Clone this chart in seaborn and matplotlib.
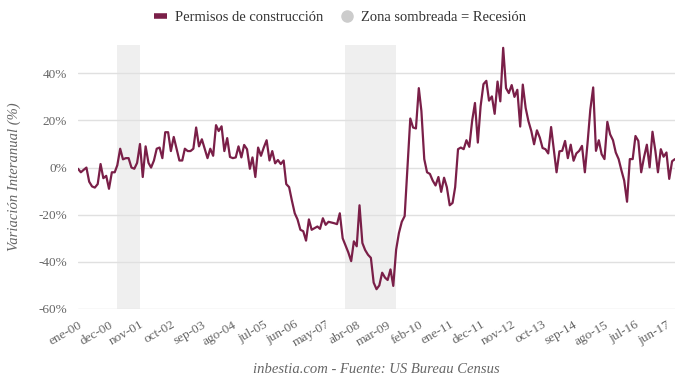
import pandas as pd
import matplotlib
matplotlib.use('Agg')
import matplotlib.pyplot as plt
from matplotlib.lines import Line2D
import seaborn as sns

# Variación interanual de los permisos de construcción (%), mensual desde ene-2000
variacion = [
    -0.5, -2, -1, 0, -6, -8, -8.5, -7, 1.5, -4.5, -3.5, -9,            # 2000
    -2, -2, 1, 8, 3.5, 4, 4, 0, -0.5, 2, 10, -4,                        # 2001
    9, 2, 0, 3, 8, 8.5, 4, 15, 15, 7, 13, 8,                            # 2002
    3, 3, 8, 7, 7, 8, 17, 9, 12, 8, 4, 8,                               # 2003
    5, 18, 15.5, 17.5, 7, 12.5, 4.5, 4, 4.3, 9, 4.3, 9.6,               # 2004
    7.8, -0.5, 4.3, -4, 8.5, 5, 8.5, 11.6, 3, 7, 1.8, 3.2,              # 2005
    1.5, 3, -7, -8.3, -14, -19.4, -22, -26.4, -27, -31, -22, -26.4,     # 2006
    -25.7, -25, -26, -21.5, -24.3, -23, -23.3, -23.6, -24, -19.4, -30, -33,  # 2007
    -36, -39.7, -31.3, -33.4, -16, -32, -35, -37, -38.3, -48.8, -51.6, -50,  # 2008
    -44.6, -46.7, -47.7, -43.2, -50.2, -34.8, -27.8, -23, -20.6, 0, 20.8, 17,  # 2009
    16.6, 33.7, 24, 3.6, -2, -2.7, -5.5, -7.6, -4, -10.3, -4.3, -8.3,   # 2010
    -16, -15, -8.3, 7.8, 8.5, 7.8, 11.6, 8.8, 20, 27.4, 10.6, 26,       # 2011
    35.4, 36.8, 28.4, 30.2, 22.8, 36.5, 28.1, 50.8, 33.7, 31.6, 35, 30, # 2012
    33, 17.4, 35.2, 25.3, 19.7, 15.5, 9.9, 15.8, 12.7, 8.3, 7.8, 6,     # 2013
    17.2, 7.1, -2, 6.9, 7.1, 11.3, 4, 9.7, 2.9, 6, 7.1, 9.2,            # 2014
    -2, 11.3, 24.6, 34, 7.1, 11.6, 5.7, 3.6, 19.4, 14.1, 11.6, 6.4,     # 2015
    3.6, -1.3, -5.5, -14.5, 3.6, 3.6, 13.4, 11.3, -2, 4.3, 9.7, 0.1,    # 2016
    15.2, 7.1, -2, 7.8, 4.6, 6.4, -4.8, 2.7, 3.6,                       # 2017
]

etiquetas = ['ene-00', 'dec-00', 'nov-01', 'oct-02', 'sep-03', 'ago-04', 'jul-05',
             'jun-06', 'may-07', 'abr-08', 'mar-09', 'feb-10', 'ene-11', 'dec-11',
             'nov-12', 'oct-13', 'sep-14', 'ago-15', 'jul-16', 'jun-17']

recesiones = [('2001-03-01', '2001-11-01'), ('2007-12-01', '2009-06-01')]

df = pd.DataFrame({
    'fecha': pd.date_range('2000-01-01', periods=len(variacion), freq='MS'),
    'variacion': variacion,
})

sns.set_style('white')
plt.rcParams['font.family'] = ['Liberation Serif', 'DejaVu Serif']

color_linea = '#7a1f48'
gris = '#666666'

fig = plt.figure(figsize=(6.8, 3.86), dpi=100)
ax = fig.add_axes([0.1147, 0.1995, 0.8779, 0.6839])

for inicio, fin in recesiones:
    ax.axvspan(pd.Timestamp(inicio), pd.Timestamp(fin), color='#efefef', lw=0, zorder=0)

sns.lineplot(data=df, x='fecha', y='variacion', color=color_linea, lw=1.6, ax=ax, zorder=3)

ax.set_ylim(-60, 52)
ax.set_yticks([-60, -40, -20, 0, 20, 40])
ax.set_yticklabels([f'{v}%' for v in [-60, -40, -20, 0, 20, 40]])
ax.set_xlim(df['fecha'].iloc[0], df['fecha'].iloc[-1])
ax.set_xticks(df['fecha'].iloc[::11])
ax.set_xticklabels(etiquetas, rotation=30, ha='right', rotation_mode='anchor')

ax.yaxis.grid(True, color='#e0e0e0', lw=1)
ax.xaxis.grid(False)
for s in ax.spines.values():
    s.set_visible(False)
ax.tick_params(axis='y', length=0, labelsize=9.5, labelcolor=gris, pad=8)
ax.tick_params(axis='x', length=4, color='#cccccc', labelsize=9.5, labelcolor=gris, pad=3)

ax.set_xlabel('')
ax.set_ylabel('Variación Interanual (%)', fontsize=10.5, color=gris, style='italic', labelpad=12)

handles = [
    Line2D([0], [0], color=color_linea, lw=4, solid_capstyle='butt'),
    Line2D([0], [0], marker='o', ls='none', markersize=8, markerfacecolor='#cccccc',
           markeredgecolor='#cccccc'),
]
fig.legend(handles, ['Permisos de construcción', 'Zona sombreada = Recesión'],
           loc='center', bbox_to_anchor=(0.5, 0.955), ncol=2, frameon=False,
           handlelength=0.9, handletextpad=0.5, columnspacing=1.2,
           prop={'size': 10.5}, labelcolor='#333333')

fig.text(0.553, 0.033, 'inbestia.com - Fuente: US Bureau Census', ha='center',
         fontsize=10.5, color=gris, style='italic')

fig.savefig('out.png', dpi=100)
